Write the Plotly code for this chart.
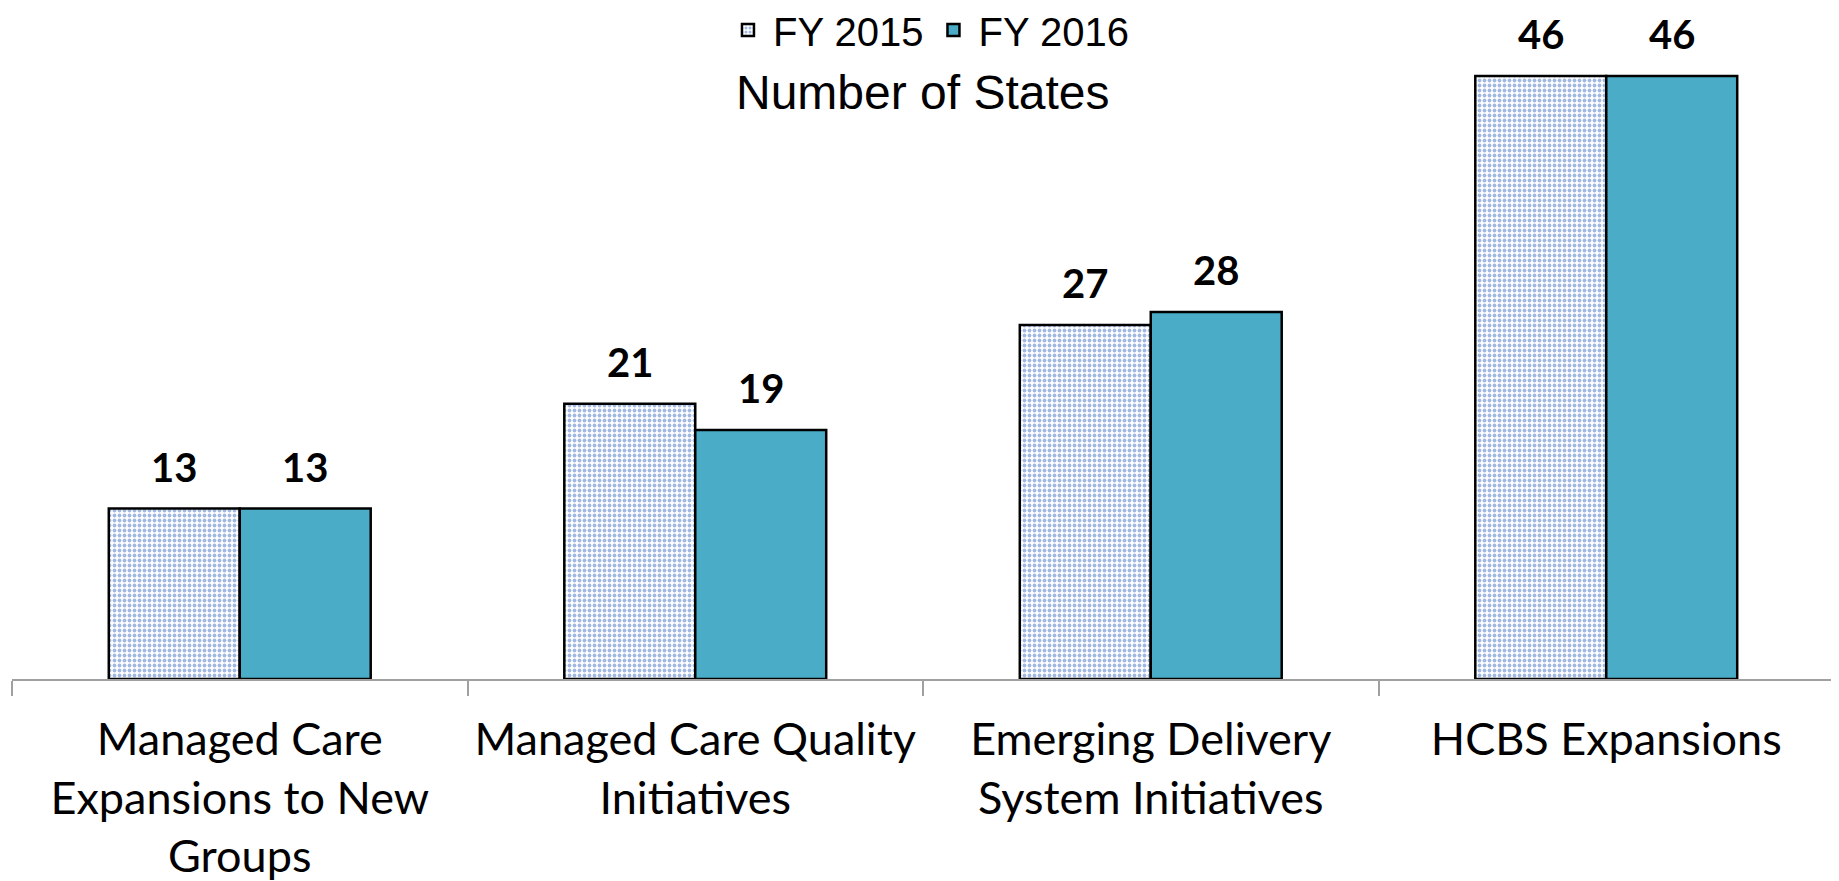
import plotly.graph_objects as go

categories = ["Managed Care<br>Expansions to New<br>Groups",
              "Managed Care Quality<br>Initiatives",
              "Emerging Delivery<br>System Initiatives",
              "HCBS Expansions"]
fy2015 = [13, 21, 27, 46]
fy2016 = [13, 19, 28, 46]
series_names = ["FY 2015", "FY 2016"]

# page body has an 8px margin; size figure so it fills the 1839x881 window
W, H = 1831, 873
ml, mr, mt, mb = 4, 5, 40, 202
plot_bottom = H - mb          # figure px of the x axis line
plot_h = H - mt - mb
px_per_unit = 603 / 46.0
ymax = plot_h / px_per_unit


def paper_y(fig_px):
    return (plot_bottom - fig_px) / plot_h


fig = go.Figure()
fig.add_trace(go.Bar(
    x=categories, y=fy2015, name=series_names[0],
    marker=dict(color="white", line=dict(color="black", width=2.5),
                pattern=dict(shape=".", fgcolor="#4472C4", bgcolor="white",
                             size=5, solidity=0.45)),
))
fig.add_trace(go.Bar(
    x=categories, y=fy2016, name=series_names[1],
    marker=dict(color="#4AACC6", line=dict(color="black", width=2.5)),
))

bar_w = (1 - 0.425) / 2
annotations = []
for i in range(len(categories)):
    for j, vals in enumerate([fy2015, fy2016]):
        annotations.append(dict(
            x=i + (j - 0.5) * bar_w, y=vals[i], xref="x", yref="y",
            text=f"<b>{vals[i]}</b>", showarrow=False, yanchor="bottom",
            yshift=16, font=dict(family="Lato", size=40, color="black")))
annotations.append(dict(
    x=0.5, y=paper_y(84), xref="paper", yref="paper",
    text="Number of States", showarrow=False, yanchor="middle",
    font=dict(family="Liberation Sans", size=48, color="black")))

fig.update_layout(
    width=W, height=H,
    margin=dict(l=ml, r=mr, t=mt, b=mb, autoexpand=False),
    paper_bgcolor="white", plot_bgcolor="white",
    barmode="group", bargap=0.425, bargroupgap=0,
    showlegend=True,
    legend=dict(orientation="h", x=0.503, xanchor="center",
                y=paper_y(22), yanchor="middle",
                font=dict(family="Liberation Sans", size=40, color="black"),
                bgcolor="rgba(0,0,0,0)", itemwidth=40),
    annotations=annotations,
    xaxis=dict(type="category", range=[-0.5, 3.5], showline=True,
               linecolor="#A0A0A0", linewidth=2, ticks="outside",
               tickson="boundaries", ticklen=15, tickcolor="#A0A0A0",
               tickwidth=2, showgrid=False, ticklabelstandoff=20,
               automargin=False,
               tickfont=dict(family="Lato", size=45, color="black")),
    yaxis=dict(range=[0, ymax], visible=False, showgrid=False,
               automargin=False),
)

fig.write_html("out.html")
